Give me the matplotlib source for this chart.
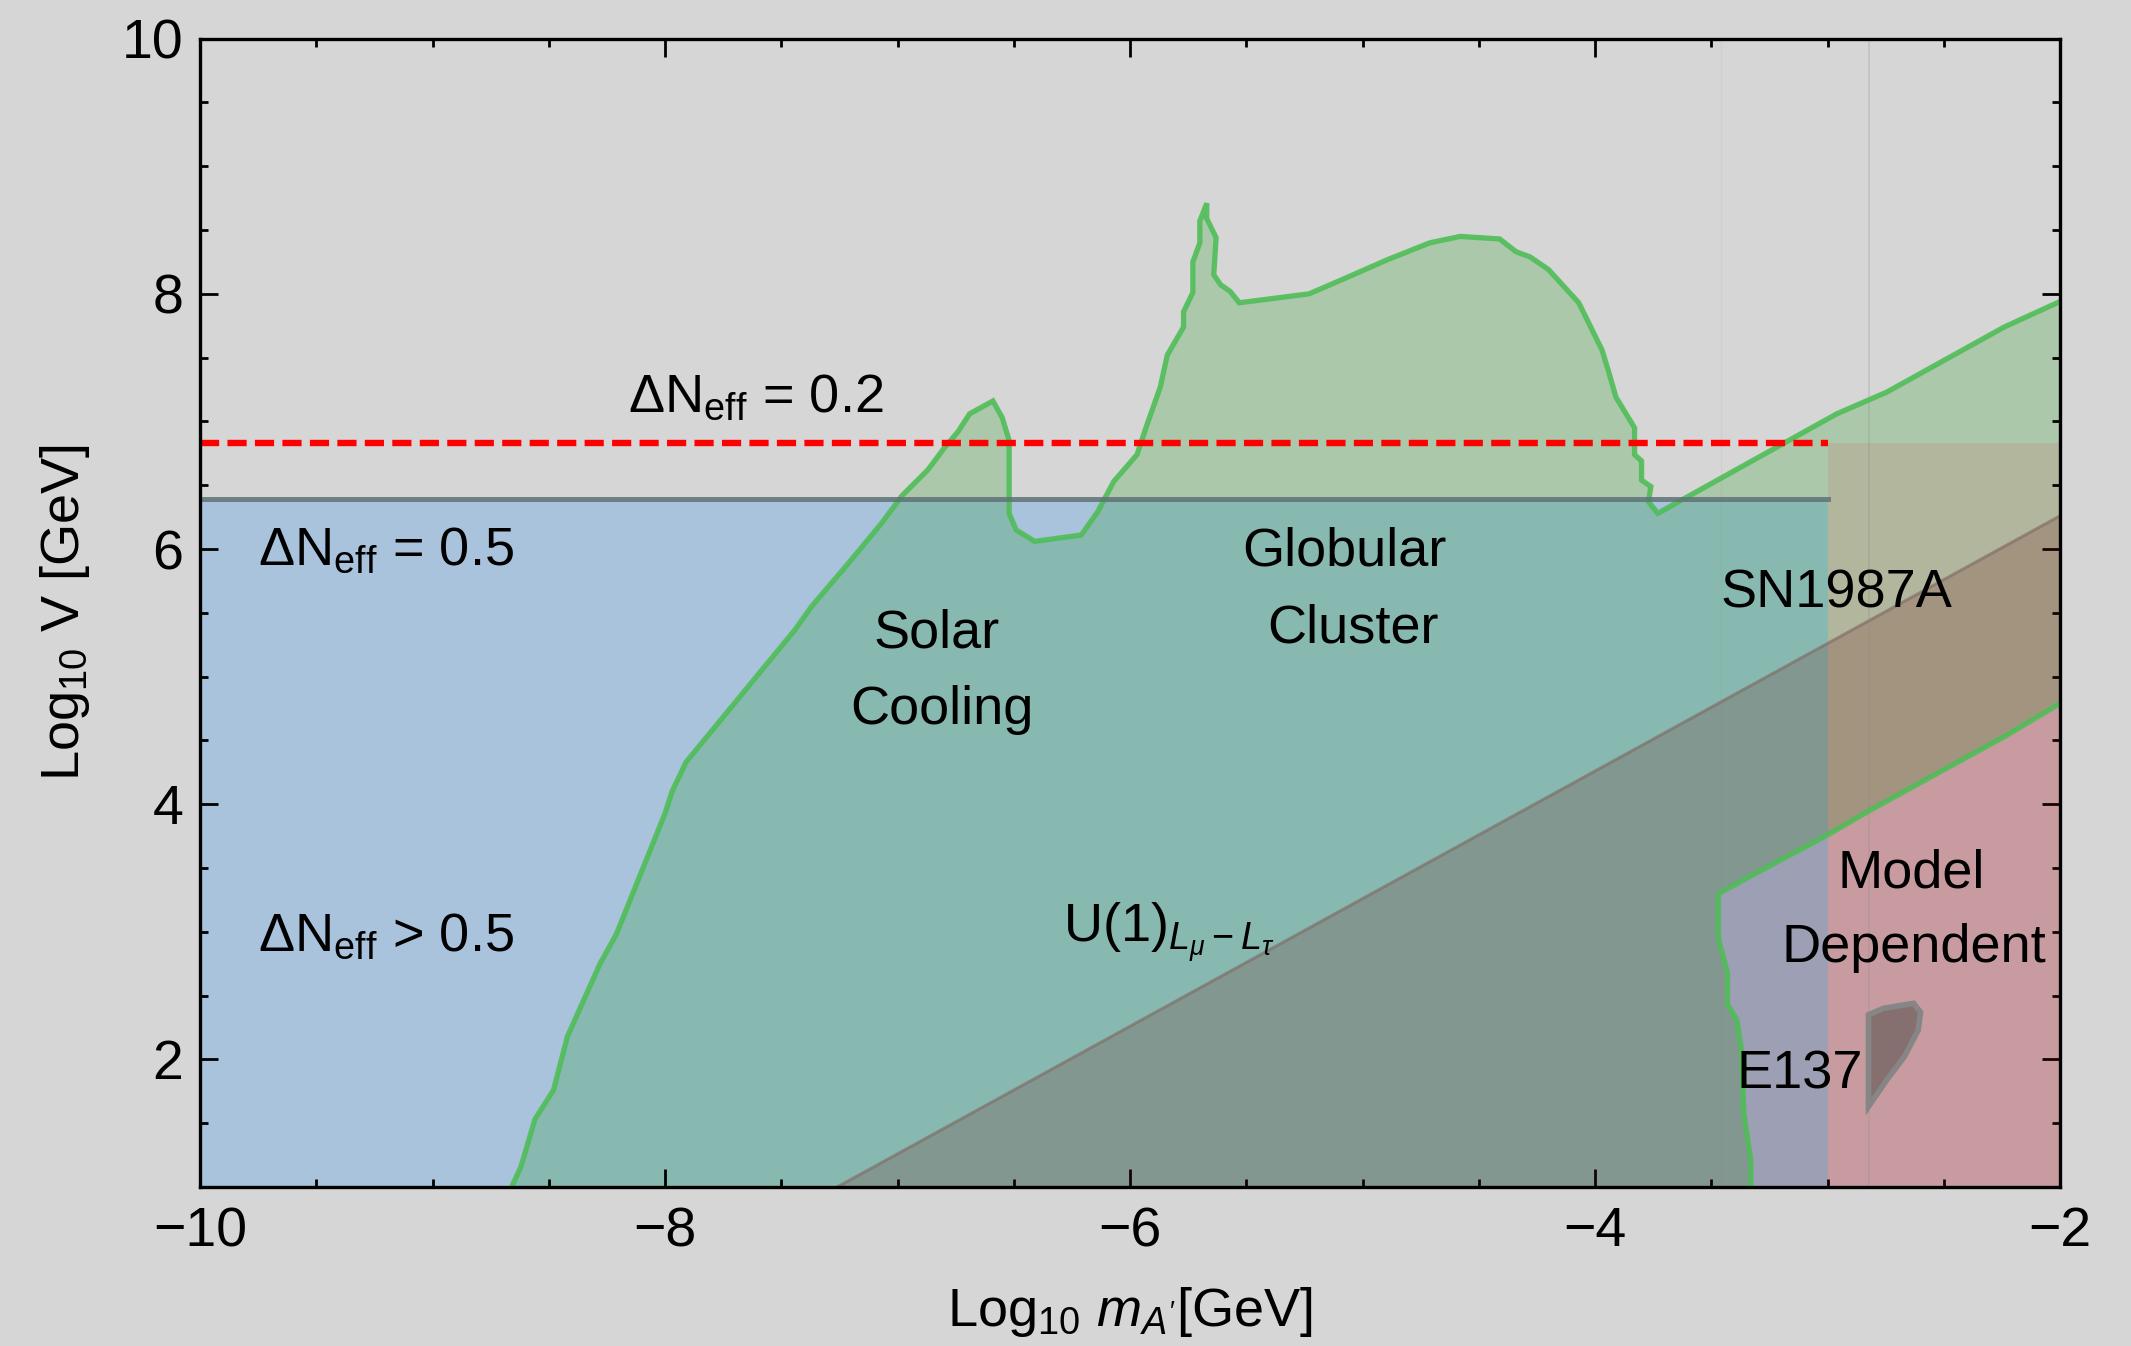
import numpy as np
import matplotlib
matplotlib.use('Agg')
import matplotlib.pyplot as plt
from matplotlib.ticker import MultipleLocator

plt.rcParams['font.family'] = ['Liberation Sans', 'DejaVu Sans']
plt.rcParams['mathtext.fontset'] = 'custom'
plt.rcParams['mathtext.rm'] = 'Liberation Sans'
plt.rcParams['mathtext.it'] = 'Liberation Sans:italic'
plt.rcParams['mathtext.bf'] = 'Liberation Sans:bold'

# --- data (log10 m_A' [GeV], log10 V [GeV]) ---
dneff_02 = 6.83          # red dashed line
dneff_05 = 6.39          # gray line / top of blue region
dneff_xmax = -3.0

# upper/left boundary of the star-cooling region (solar, globular cluster, SN1987A)
cool_upper_x = [-8.66, -8.62, -8.56, -8.48, -8.42, -8.28, -8.21, -8.00, -7.97, -7.91,
                -7.44, -7.37, -7.22, -7.07, -6.98, -6.87, -6.80, -6.74, -6.69, -6.59,
                -6.55, -6.52, -6.52, -6.49, -6.41, -6.21, -6.14, -6.07, -5.97, -5.93,
                -5.87, -5.84, -5.77, -5.77, -5.73, -5.73, -5.70, -5.70, -5.67, -5.67,
                -5.63, -5.64, -5.61, -5.57, -5.53, -5.23, -5.09, -4.89, -4.71, -4.58,
                -4.41, -4.34, -4.28, -4.20, -4.07, -3.97, -3.94, -3.91, -3.83, -3.83,
                -3.80, -3.80, -3.76, -3.77, -3.73, -2.96, -2.745, -2.24, -2.0]
cool_upper_y = [1.00, 1.16, 1.53, 1.76, 2.18, 2.75, 2.98, 3.93, 4.10, 4.33,
                5.37, 5.55, 5.87, 6.20, 6.42, 6.62, 6.79, 6.92, 7.06, 7.16,
                7.03, 6.85, 6.28, 6.15, 6.06, 6.11, 6.29, 6.53, 6.74, 6.96,
                7.27, 7.52, 7.74, 7.86, 8.01, 8.25, 8.40, 8.57, 8.71, 8.59,
                8.44, 8.15, 8.07, 8.02, 7.93, 8.00, 8.11, 8.27, 8.40, 8.45,
                8.43, 8.33, 8.29, 8.19, 7.93, 7.56, 7.38, 7.19, 6.95, 6.74,
                6.69, 6.54, 6.49, 6.37, 6.28, 7.06, 7.23, 7.74, 7.94]

# lower boundary of the SN1987A band (from right edge back down to the x axis)
sn_lower_x = [-2.0, -2.24, -2.82, -3.00, -3.46, -3.47, -3.47, -3.43, -3.43, -3.39,
              -3.37, -3.36, -3.33, -3.33]
sn_lower_y = [4.79, 4.53, 3.95, 3.76, 3.31, 3.29, 2.95, 2.675, 2.43, 2.31,
              2.07, 1.58, 1.21, 1.00]

# U(1)_{Lmu-Ltau} triangle
u1_x = [-7.26, -2.0, -2.0]
u1_y = [1.0, 6.26, 1.0]

# model dependent box
md_x = [-3.0, -2.0]
md_ytop = 6.83

# E137
e137_x = [-2.824, -2.76, -2.63, -2.60, -2.61, -2.67, -2.745, -2.824]
e137_y = [2.35, 2.40, 2.44, 2.37, 2.23, 2.02, 1.84, 1.63]

xmin, xmax, ymin, ymax = -10, -2, 1, 10

bg = '#d6d6d6'
fig = plt.figure(figsize=(2131 / 200, 1346 / 200), dpi=200, facecolor=bg)
ax = fig.add_axes([0.0939, 0.1181, 0.8728, 0.8532], facecolor=bg)

# Delta N_eff > 0.5 region
ax.fill_between([xmin, dneff_xmax], ymin, dneff_05, color='#a9c3dc', lw=0, zorder=1)

# model dependent region
ax.fill_between(md_x, ymin, md_ytop, color=(1.0, 0.39, 0.47), alpha=0.2, lw=0, zorder=1.2)

# cooling region
poly_x = cool_upper_x + sn_lower_x
poly_y = cool_upper_y + sn_lower_y
ax.fill(poly_x, poly_y, color=(0.0, 0.58, 0.0), alpha=0.2, lw=0, zorder=1.4)

# U(1) triangle
ax.fill(u1_x, u1_y, facecolor=(0.43, 0.06, 0.08), alpha=0.2, lw=0, zorder=1.6)
ax.plot(u1_x[:2], u1_y[:2], color=(0.5, 0.42, 0.4), lw=1.1, alpha=0.65, zorder=1.7)

# faint rendering seams
ax.axvline(-2.82, color='#888888', lw=0.6, alpha=0.25, zorder=1.8)
ax.axvline(-3.46, color='#888888', lw=0.5, alpha=0.08, zorder=1.8)

# cooling boundaries
ax.plot(cool_upper_x, cool_upper_y, color='#4fbd57', lw=1.9, alpha=0.9, zorder=2,
        solid_joinstyle='miter')
ax.plot(sn_lower_x, sn_lower_y, color='#4fbd57', lw=1.9, alpha=0.9, zorder=2)

# Delta N_eff lines
ax.plot([xmin, dneff_xmax], [dneff_05, dneff_05], color='#5f7377', lw=1.8, alpha=0.85, zorder=2.1)
ax.plot([xmin, dneff_xmax], [dneff_02, dneff_02], color='red', lw=2.3,
        dashes=(3.0, 1.3), zorder=2.2)

# E137
ax.fill(e137_x, e137_y, facecolor='#86706f', edgecolor='#868686', lw=2.0, zorder=2.3)

# labels
fs = 19.5
ax.text(-7.61, 7.19, r'ΔN$_{\mathrm{eff}}$ = 0.2', fontsize=fs, ha='center', va='center')
ax.text(-9.75, 5.99, r'ΔN$_{\mathrm{eff}}$ = 0.5', fontsize=fs, ha='left', va='center')
ax.text(-9.75, 2.96, r'ΔN$_{\mathrm{eff}}$ > 0.5', fontsize=fs, ha='left', va='center')
ax.text(-6.83, 5.34, 'Solar', fontsize=fs, ha='center', va='center')
ax.text(-6.81, 4.74, 'Cooling', fontsize=fs, ha='center', va='center')
ax.text(-5.08, 5.98, 'Globular', fontsize=fs, ha='center', va='center')
ax.text(-5.04, 5.38, 'Cluster', fontsize=fs, ha='center', va='center')
ax.text(-2.96, 5.65, 'SN1987A', fontsize=fs, ha='center', va='center')
ax.text(-2.64, 3.46, 'Model', fontsize=fs, ha='center', va='center')
ax.text(-2.63, 2.87, 'Dependent', fontsize=fs, ha='center', va='center')
ax.text(-3.12, 1.88, 'E137', fontsize=fs, ha='center', va='center')
ax.text(-6.29, 3.0, r'U(1)$_{L_{\mu}-L_{\tau}}$', fontsize=fs, ha='left', va='center')

ax.set_xlim(xmin, xmax)
ax.set_ylim(ymin, ymax)
ax.xaxis.set_major_locator(MultipleLocator(2))
ax.xaxis.set_minor_locator(MultipleLocator(0.5))
ax.yaxis.set_major_locator(MultipleLocator(2))
ax.yaxis.set_minor_locator(MultipleLocator(0.5))
ax.tick_params(which='both', direction='in', top=True, right=True, width=1.0, colors='black')
ax.tick_params(which='major', length=6.5, labelsize=20)
ax.tick_params(which='minor', length=3.0)
ax.tick_params(axis='x', which='major', pad=7)
ax.tick_params(axis='y', which='major', pad=6)
for s in ax.spines.values():
    s.set_linewidth(1.2)
    s.set_zorder(5)

ax.set_xlabel(r"Log$_{10}$ $m_{A'}$[GeV]", fontsize=19.5)
ax.set_ylabel(r'Log$_{10}$ V [GeV]', fontsize=19.5)
ax.xaxis.set_label_coords(0.5, -0.085)
ax.yaxis.set_label_coords(-0.058, 0.5)

fig.savefig('out.png', dpi=200, facecolor=bg)
